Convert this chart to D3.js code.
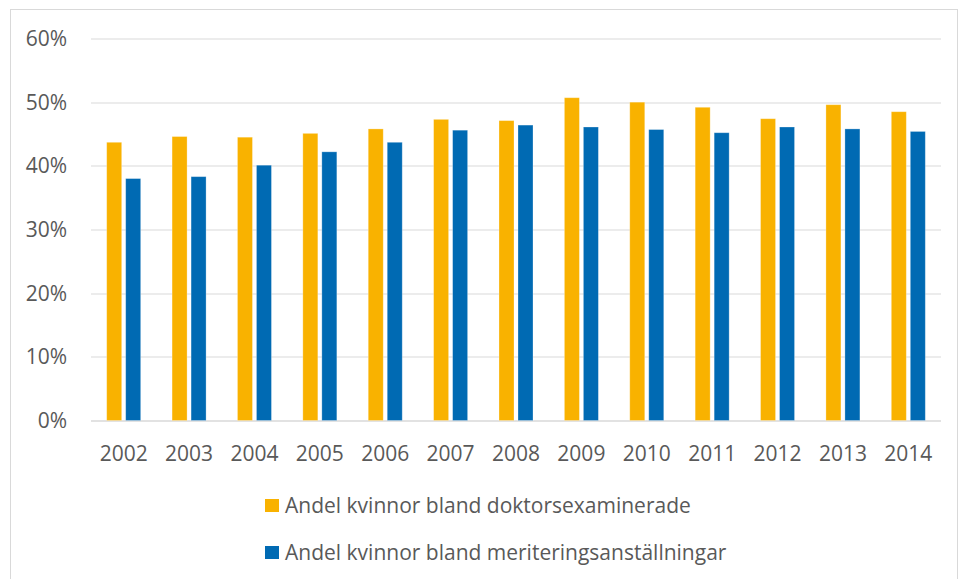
<!DOCTYPE html>
<html>
<head>
<meta charset="utf-8">
<script src="https://cdn.jsdelivr.net/npm/d3@7"></script>
<style>
  body { margin: 0; background: #fff; }
  svg text { font-family: "Open Sans", sans-serif; fill: #595959; }
</style>
</head>
<body>
<div class="chart"></div>
<script>
const years = ["2002", "2003", "2004", "2005", "2006", "2007", "2008", "2009", "2010", "2011", "2012", "2013", "2014"];
const doktor = [43.7, 44.6, 44.5, 45.1, 45.8, 47.3, 47.1, 50.7, 50.0, 49.2, 47.4, 49.6, 48.5];
const meriter = [38.0, 38.3, 40.1, 42.2, 43.7, 45.6, 46.4, 46.1, 45.7, 45.2, 46.1, 45.8, 45.4];
const yTicks = [0, 10, 20, 30, 40, 50, 60];
const seriesNames = ["Andel kvinnor bland doktorsexaminerade", "Andel kvinnor bland meriteringsanställningar"];
const colors = ["#F9B200", "#006AB3"];

const W = 959, H = 579;
const margin = { top: 38.5, right: 18, bottom: 158.5, left: 91 };
const width = W - margin.left - margin.right;
const height = H - margin.top - margin.bottom;

const svg = d3.select(".chart").append("svg")
  .attr("width", W).attr("height", H);

// chart frame
svg.append("rect")
  .attr("x", 10.5).attr("y", 9.5)
  .attr("width", 947).attr("height", 600)
  .attr("fill", "none").attr("stroke", "#d9d9d9");

const g = svg.append("g").attr("transform", `translate(${margin.left},${margin.top})`);

const x = d3.scaleBand().domain(years).range([0, width]);
const y = d3.scaleLinear().domain([0, 60]).range([height, 0]);

// gridlines
g.append("g")
  .selectAll("line")
  .data(yTicks)
  .enter()
  .append("line")
  .attr("x1", 0).attr("x2", width)
  .attr("y1", (d) => Math.round(y(d)) + 0.5)
  .attr("y2", (d) => Math.round(y(d)) + 0.5)
  .attr("stroke", "#d9d9d9")
  .attr("stroke-width", (d) => (d === 0 ? 1.5 : 1));

// y labels
g.append("g")
  .selectAll("text")
  .data(yTicks)
  .enter()
  .append("text")
  .attr("x", -24)
  .attr("y", (d) => y(d))
  .attr("dy", "0.35em")
  .attr("text-anchor", "end")
  .style("font-size", "21px")
  .text((d) => d + "%");

// x labels
g.append("g")
  .selectAll("text")
  .data(years)
  .enter()
  .append("text")
  .attr("x", (d) => x(d) + x.bandwidth() / 2)
  .attr("y", height + 40)
  .attr("text-anchor", "middle")
  .style("font-size", "21px")
  .text((d) => d);

const barW = 15, gap = 4;
const series = [doktor, meriter];

series.forEach((vals, si) => {
  g.append("g")
    .selectAll("rect")
    .data(vals)
    .enter()
    .append("rect")
    .attr("x", (d, i) => x(years[i]) + x.bandwidth() / 2 - barW - gap / 2 + si * (barW + gap))
    .attr("y", (d) => y(d))
    .attr("width", barW)
    .attr("height", (d) => height - y(d))
    .attr("fill", colors[si])
    .attr("stroke", "#ffffff")
    .attr("stroke-opacity", 0.35)
    .attr("stroke-width", 0.8);
});

// legend
const legend = svg.append("g").attr("transform", "translate(265,499)");
seriesNames.forEach((name, i) => {
  const item = legend.append("g").attr("transform", `translate(0,${i * 47})`);
  item.append("rect")
    .attr("width", 14).attr("height", 13)
    .attr("fill", colors[i]);
  item.append("text")
    .attr("x", 20).attr("y", 6.5)
    .attr("dy", "0.35em")
    .style("font-size", "21px")
    .text(name);
});
</script>
</body>
</html>
